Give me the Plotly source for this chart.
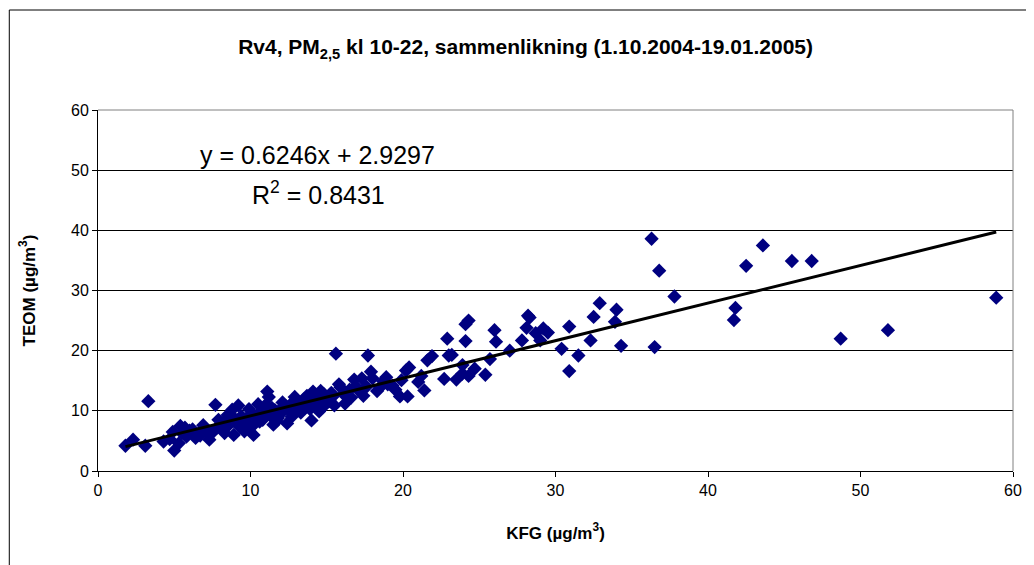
import plotly.graph_objects as go

kfg = [36.3, 36.8, 37.8, 36.5, 41.8, 41.7, 42.5, 43.6, 45.5, 46.8, 48.7, 51.8, 58.9,
       34.3, 34.0, 33.9, 32.9, 32.5, 32.3, 31.5, 30.9, 30.9, 30.4, 29.5, 29.2, 29.0, 28.7,
       28.3, 28.2, 28.1, 27.8, 27.0, 26.1, 26.0, 25.7, 25.4, 24.7, 24.3, 24.1, 24.1, 23.9,
       23.9, 23.5, 24.3, 23.0, 22.9, 23.2, 22.7, 21.9, 21.6, 21.4, 21.2, 21.0, 20.2, 20.4,
       20.3, 19.8, 19.9, 19.5, 19.0, 18.7, 18.5, 18.3, 18.0, 17.9, 17.7, 17.6, 17.4, 17.3,
       17.0, 16.8, 16.5, 16.2, 16.1, 15.9, 15.8, 15.6, 15.5, 15.4, 15.2, 14.8, 14.6, 14.5,
       14.3, 14.1, 14.0, 13.9, 13.7, 13.5, 13.3, 13.1, 12.9, 12.7, 12.4, 12.3, 12.1, 12.0,
       11.8, 11.6, 11.5, 11.3, 11.2, 11.1, 11.0, 10.8, 10.7, 10.5, 10.4, 10.2, 10.0, 9.9,
       9.7, 9.6, 9.4, 9.3, 9.2, 9.0, 8.9, 8.8, 8.6, 8.5, 8.3, 8.2, 7.9, 7.7, 7.5, 7.3,
       7.1, 6.9, 6.6, 6.4, 6.0, 5.8, 5.7, 5.5, 5.4, 5.3, 5.0, 4.9, 4.7, 4.3, 3.3, 3.1,
       2.3, 1.8,
       12.2, 13.0, 11.0, 10.1, 9.1, 14.4, 15.0, 13.6, 12.6, 11.7, 10.9, 9.8, 16.6, 15.3,
       14.9, 13.8, 12.8, 11.4, 10.6, 8.7, 7.8, 16.9, 18.9, 19.3, 14.2, 13.4, 12.5, 11.9,
       10.3, 9.5, 8.1, 6.7, 6.2]
teom = [38.6, 33.3, 29.0, 20.6, 27.1, 25.1, 34.1, 37.5, 34.9, 34.9, 22.0, 23.4, 28.8,
        20.8, 26.8, 24.8, 27.9, 25.6, 21.7, 19.2, 16.6, 24.0, 20.3, 23.0, 23.7, 21.7, 22.9,
        25.5, 25.8, 23.8, 21.7, 20.0, 21.5, 23.4, 18.6, 16.0, 17.0, 25.0, 24.4, 21.6, 17.6,
        16.2, 15.2, 15.8, 19.2, 22.0, 19.3, 15.3, 19.1, 18.4, 13.4, 15.8, 14.8, 16.7, 17.2,
        12.4, 12.4, 15.1, 13.5, 14.4, 14.9, 13.9, 13.3, 15.4, 16.5, 19.2, 14.0, 12.5, 15.4,
        13.6, 15.2, 13.5, 11.2, 12.8, 13.9, 14.4, 19.5, 10.9, 12.4, 11.6, 12.8, 13.3, 9.9,
        11.3, 13.2, 8.4, 10.3, 12.5, 11.9, 9.7, 11.0, 12.3, 9.0, 7.9, 10.8, 11.4, 9.6,
        8.8, 10.1, 7.7, 9.2, 12.3, 13.2, 11.0, 8.5, 10.0, 11.1, 9.0, 6.0, 7.4, 10.3,
        8.0, 6.6, 9.1, 7.3, 10.9, 8.6, 6.0, 10.2, 7.7, 9.3, 6.3, 8.0, 8.5, 11.0, 6.4, 5.2,
        6.8, 7.6, 6.2, 5.5, 6.7, 5.7, 7.2, 6.3, 7.5, 4.6, 3.4, 6.5, 5.3, 4.9, 11.6, 4.2,
        5.2, 4.2,
        10.2, 10.6, 9.8, 9.5, 8.2, 11.8, 12.0, 10.8, 9.9, 8.3, 9.4, 8.9, 12.2, 13.0,
        11.0, 12.0, 11.5, 10.5, 8.2, 8.8, 7.2, 14.1, 15.6, 14.2, 12.7, 11.3, 10.4, 10.1,
        7.9, 7.0, 7.1, 5.9, 6.9]

slope = 0.6246
intercept = 2.9297
r2 = 0.8431

x_ticks = [0, 10, 20, 30, 40, 50, 60]
y_ticks = [0, 10, 20, 30, 40, 50, 60]

font = "Liberation Sans, Arial, sans-serif"

# page body has an 8px margin: figure is placed at (8, 8)
W, H = 1026, 557
L, T = 90, 102
PW, PH = 918, 361


def px(xp):
    return (xp - 8 - L) / PW


def py(yp):
    return (T + PH - (yp - 8)) / PH


fig = go.Figure()
fig.add_trace(go.Scatter(
    x=kfg, y=teom, mode="markers",
    marker=dict(symbol="diamond", size=11, color="#000080", line=dict(width=0)),
    showlegend=False, hoverinfo="x+y"))

xmin, xmax = min(kfg), max(kfg)
fig.add_trace(go.Scatter(
    x=[xmin, xmax], y=[slope * xmin + intercept, slope * xmax + intercept],
    mode="lines", line=dict(color="black", width=3), showlegend=False, hoverinfo="skip"))

fig.update_layout(
    width=W, height=H,
    margin=dict(l=L, r=W - L - PW, t=T, b=H - T - PH, pad=0),
    paper_bgcolor="white", plot_bgcolor="white",
    font=dict(family=font, color="black", size=16),
    title=dict(text="<b>Rv4, PM<sub>2,5</sub> kl 10-22, sammenlikning (1.10.2004-19.01.2005)</b>",
               x=px(527), xref="paper", xanchor="center",
               y=1 - (47 - 8) / H, yref="container", yanchor="middle",
               font=dict(size=21, family=font)),
    xaxis=dict(range=[0, 60], tickvals=x_ticks, showgrid=False, zeroline=False,
               showline=True, linecolor="black", linewidth=1, mirror=False,
               ticks="outside", ticklen=5, tickcolor="black",
               tickfont=dict(size=16),
               title=dict(text="<b>KFG (µg/m<sup>3</sup>)</b>", font=dict(size=17), standoff=28)),
    yaxis=dict(range=[0, 60], tickvals=y_ticks, showgrid=True, gridcolor="black", gridwidth=1,
               zeroline=False, showline=True, linecolor="black", linewidth=1,
               ticks="outside", ticklen=5, tickcolor="black",
               tickfont=dict(size=16),
               title=dict(text="<b>TEOM (µg/m<sup>3</sup>)</b>", font=dict(size=17), standoff=31)),
    shapes=[
        dict(type="line", xref="paper", yref="paper", x0=1, x1=1, y0=0, y1=1,
             line=dict(color="#808080", width=1)),
        dict(type="line", xref="paper", yref="paper", x0=0, x1=1, y0=1, y1=1,
             line=dict(color="#808080", width=1)),
        dict(type="line", xref="paper", yref="paper", x0=px(9), x1=px(1040), y0=py(10), y1=py(10),
             line=dict(color="black", width=1)),
        dict(type="line", xref="paper", yref="paper", x0=px(9), x1=px(9), y0=py(10), y1=py(575),
             line=dict(color="black", width=1)),
    ],
    annotations=[
        dict(text="y = 0.6246x + 2.9297", xref="paper", yref="paper",
             x=px(318), y=py(155), showarrow=False,
             xanchor="center", yanchor="middle", font=dict(size=25, family=font)),
        dict(text="R<sup>2</sup> = 0.8431", xref="paper", yref="paper",
             x=px(319), y=py(193), showarrow=False,
             xanchor="center", yanchor="middle", font=dict(size=25, family=font)),
    ],
)

fig.write_html("out.html")
